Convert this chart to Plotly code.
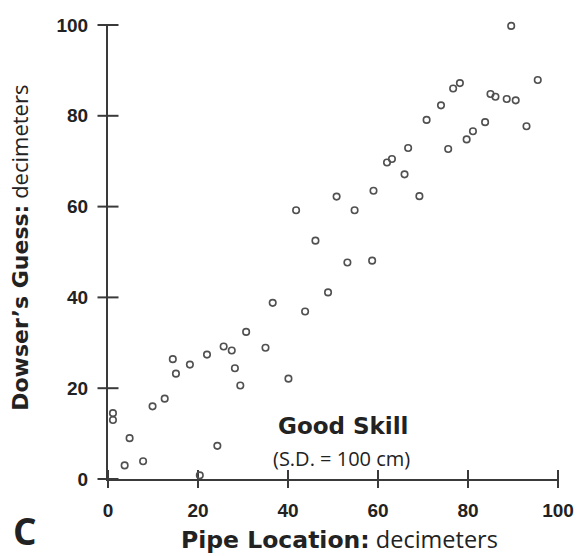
import plotly.graph_objects as go

# Pipe location (decimeters) vs dowser's guess (decimeters)
pipe_location = [1.1, 1.1, 3.7, 4.8, 7.8, 9.9, 12.6, 14.4, 15.1, 18.2,
                 20.4, 22.0, 24.3, 25.7, 27.5, 28.2, 29.4, 30.7, 35.0, 36.6,
                 40.1, 43.8, 48.9, 41.8, 46.1, 50.8, 53.2, 54.8, 58.7, 59.0,
                 89.6, 95.5, 78.2, 76.7, 85.0, 86.1, 88.6, 90.6, 74.0, 70.8,
                 83.8, 93.0, 81.1, 79.7, 66.7, 75.6, 63.1, 62.0, 65.9, 69.2]
dowser_guess = [14.5, 13.0, 3.0, 9.0, 3.9, 16.0, 17.7, 26.4, 23.2, 25.2,
                0.8, 27.4, 7.3, 29.2, 28.3, 24.4, 20.6, 32.4, 28.9, 38.8,
                22.1, 36.9, 41.1, 59.2, 52.5, 62.2, 47.7, 59.2, 48.1, 63.5,
                99.8, 87.9, 87.2, 86.0, 84.8, 84.2, 83.7, 83.4, 82.3, 79.1,
                78.6, 77.7, 76.6, 74.8, 72.9, 72.7, 70.5, 69.7, 67.1, 62.3]

tick_vals = [0, 20, 40, 60, 80, 100]

INK = "#222222"
AXIS = "#3a3a3a"
BOLD = "Liberation Sans"
HEAVY = "DejaVu Sans"
REG = "Open Sans"

fig = go.Figure()

# crossing tick marks, drawn as line markers placed through the axes' scales
fig.add_trace(go.Scatter(
    x=tick_vals, y=[0] * len(tick_vals), mode="markers", cliponaxis=False,
    marker=dict(symbol="line-ns", size=13, line=dict(width=2, color=AXIS)),
    showlegend=False, hoverinfo="skip"))
fig.add_trace(go.Scatter(
    x=[0] * len(tick_vals), y=tick_vals, mode="markers", cliponaxis=False,
    marker=dict(symbol="line-ew", size=15, line=dict(width=2, color=AXIS)),
    showlegend=False, hoverinfo="skip"))

fig.add_trace(go.Scatter(
    x=pipe_location, y=dowser_guess, mode="markers",
    marker=dict(symbol="circle-open", size=6.5, color="#505050",
                line=dict(width=1.6, color="#505050")),
    cliponaxis=False, showlegend=False, hoverinfo="x+y"))

axis_common = dict(range=[0, 100], tickvals=tick_vals, showgrid=False,
                   zeroline=False, showline=True, linecolor=AXIS, linewidth=2,
                   tickwidth=2, ticks="outside", tickcolor="rgba(0,0,0,0)",
                   tickfont=dict(family=BOLD, size=19, color=INK, weight="bold"))

fig.update_layout(
    width=586, height=556,
    margin=dict(l=108, r=20, t=25, b=77),
    paper_bgcolor="white", plot_bgcolor="white",
    # visible tick marks come from the marker traces; axis ticks only set label distance
    xaxis=dict(**axis_common, ticklen=13),
    yaxis=dict(**axis_common, ticklen=14),
)

fig.add_annotation(
    text=f"<span style='font-family:{HEAVY};font-weight:bold'>Pipe Location:</span> decimeters",
    xref="paper", yref="paper", x=0.515, y=-0.133, xanchor="center", yanchor="middle",
    showarrow=False, font=dict(family=REG, size=23.5, color=INK))
fig.add_annotation(
    text=f"<span style='font-family:{HEAVY};font-weight:bold'>Dowser’s Guess:</span> decimeters",
    xref="paper", yref="paper", x=-0.198, y=0.509, xanchor="center", yanchor="middle",
    textangle=-90, showarrow=False, font=dict(family=REG, size=22, color=INK))
fig.add_annotation(
    text="Good Skill", xref="paper", yref="paper", x=0.522, y=0.117,
    xanchor="center", yanchor="middle", showarrow=False,
    font=dict(family=HEAVY, size=23, color=INK, weight="bold"))
fig.add_annotation(
    text="(S.D. = 100 cm)", xref="paper", yref="paper", x=0.518, y=0.046,
    xanchor="center", yanchor="middle", showarrow=False,
    font=dict(family=REG, size=20, color=INK))
fig.add_annotation(
    text="C", xref="paper", yref="paper", x=-0.184, y=-0.113,
    xanchor="center", yanchor="middle", showarrow=False,
    font=dict(family=REG, size=37, color=INK, weight="bold"))

fig.write_html("out.html")
